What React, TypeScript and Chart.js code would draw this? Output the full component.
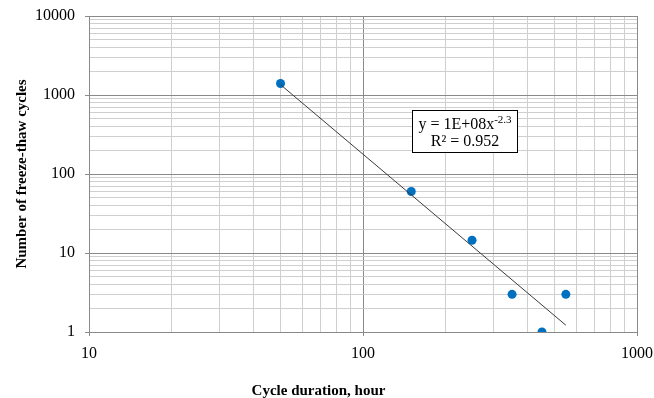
import React, { useEffect, useRef } from "react";
import { Chart, registerables } from "chart.js";

Chart.register(...registerables);

const durationHours = [50, 150, 250, 350, 450, 550];
const freezeThawCycles = [1400, 60, 14.5, 3, 1, 3];
const xMajorTicks = [10, 100, 1000];
const yMajorTicks = [1, 10, 100, 1000, 10000];
const minorSteps = [2, 3, 4, 5, 6, 7, 8, 9];
const equationText = "y = 1E+08x";
const equationExponent = "-2.3";
const rSquaredText = "R² = 0.952";
const xTitle = "Cycle duration, hour";
const yTitle = "Number of freeze-thaw cycles";

const FONT = "'Liberation Serif', 'Times New Roman', serif";
const MAJOR_GRID = "#8a8a8a";
const MINOR_GRID = "#cfcfcf";

function powerFit(xs: number[], ys: number[]) {
  const lx = xs.map((v) => Math.log10(v));
  const ly = ys.map((v) => Math.log10(v));
  const n = xs.length;
  const mx = lx.reduce((a, b) => a + b, 0) / n;
  const my = ly.reduce((a, b) => a + b, 0) / n;
  let sxy = 0;
  let sxx = 0;
  for (let i = 0; i < n; i++) {
    sxy += (lx[i] - mx) * (ly[i] - my);
    sxx += (lx[i] - mx) * (lx[i] - mx);
  }
  const b = sxy / sxx;
  const a = Math.pow(10, my - b * mx);
  return { a, b };
}

function buildLogTicks(majors: number[]) {
  const out: { value: number; major: boolean }[] = [];
  majors.forEach((m, i) => {
    out.push({ value: m, major: true });
    if (i < majors.length - 1) {
      minorSteps.forEach((s) => out.push({ value: m * s, major: false }));
    }
  });
  return out;
}

const annotationPlugin = {
  id: "trendLabel",
  afterDatasetsDraw(chart: any) {
    const { ctx, chartArea } = chart;
    const w = chartArea.right - chartArea.left;
    const h = chartArea.bottom - chartArea.top;
    const bx = Math.round(chartArea.left + 0.589 * w) + 0.5;
    const by = Math.round(chartArea.top + 0.297 * h) + 0.5;
    const bw = 105;
    const bh = 42;
    ctx.save();
    ctx.fillStyle = "#ffffff";
    ctx.fillRect(bx, by, bw, bh);
    ctx.strokeStyle = "#000000";
    ctx.lineWidth = 1;
    ctx.strokeRect(bx, by, bw, bh);
    ctx.fillStyle = "#000000";
    ctx.textBaseline = "alphabetic";
    ctx.textAlign = "left";
    ctx.font = `16px ${FONT}`;
    const mainW = ctx.measureText(equationText).width;
    ctx.font = `11px ${FONT}`;
    const supW = ctx.measureText(equationExponent).width;
    const total = mainW + supW;
    const x1 = bx + (bw - total) / 2;
    ctx.font = `16px ${FONT}`;
    ctx.fillText(equationText, x1, by + 18);
    ctx.font = `11px ${FONT}`;
    ctx.fillText(equationExponent, x1 + mainW, by + 12);
    ctx.font = `16px ${FONT}`;
    ctx.textAlign = "center";
    ctx.fillText(rSquaredText, bx + bw / 2, by + 35);
    ctx.restore();
  },
};

export default function App() {
  const canvasRef = useRef<HTMLCanvasElement | null>(null);

  useEffect(() => {
    document.body.style.margin = "0";
    const canvas = canvasRef.current;
    if (!canvas) return;
    const fit = powerFit(durationHours, freezeThawCycles);
    const xMin = Math.min(...durationHours);
    const xMax = Math.max(...durationHours);
    const trend = [
      { x: xMin, y: fit.a * Math.pow(xMin, fit.b) },
      { x: xMax, y: fit.a * Math.pow(xMax, fit.b) },
    ];
    const points = durationHours.map((x, i) => ({ x, y: freezeThawCycles[i] }));

    const gridColor = (majors: number[]) => (c: any) =>
      c.tick && majors.includes(c.tick.value) ? MAJOR_GRID : MINOR_GRID;
    const tickColor = (majors: number[]) => (c: any) =>
      c.tick && majors.includes(c.tick.value) ? MAJOR_GRID : "rgba(0,0,0,0)";

    const chart = new Chart(canvas, {
      type: "scatter",
      data: {
        datasets: [
          {
            label: "Power trend",
            data: trend,
            showLine: true,
            borderColor: "#3a3a3a",
            borderWidth: 1,
            pointRadius: 0,
            backgroundColor: "#3a3a3a",
          },
          {
            label: "Freeze-thaw cycles",
            data: points,
            backgroundColor: "#0070C0",
            borderColor: "#0070C0",
            borderWidth: 0,
            pointRadius: 4.5,
          },
        ],
      },
      options: {
        responsive: false,
        animation: false,
        layout: { padding: { top: 16, right: 17, left: 0, bottom: 0 } },
        plugins: {
          legend: { display: false },
          tooltip: { enabled: false },
          title: {
            display: true,
            position: "bottom",
            text: xTitle,
            color: "#000",
            font: { family: FONT, size: 15, weight: "bold" },
            padding: { top: 7, bottom: -2 },
          },
        },
        scales: {
          x: {
            type: "logarithmic",
            min: 10,
            max: 1000,
            afterBuildTicks: (s: any) => {
              s.ticks = buildLogTicks(xMajorTicks);
            },
            afterFit: (s: any) => {
              s.height = 43;
              s.paddingLeft = 0;
              s.paddingRight = 0;
            },
            ticks: {
              autoSkip: false,
              maxRotation: 0,
              color: "#000",
              padding: 8,
              font: { family: FONT, size: 16 },
              callback: (v: any) => (xMajorTicks.includes(Number(v)) ? String(v) : ""),
            },
            grid: {
              color: gridColor(xMajorTicks),
              tickColor: tickColor(xMajorTicks),
              tickLength: 4,
              lineWidth: 1,
            },
            border: { color: MAJOR_GRID },
          },
          y: {
            type: "logarithmic",
            min: 1,
            max: 10000,
            afterBuildTicks: (s: any) => {
              s.ticks = buildLogTicks(yMajorTicks);
            },
            afterFit: (s: any) => {
              s.width = 89;
              s.paddingTop = 0;
              s.paddingBottom = 0;
            },
            title: {
              display: true,
              text: yTitle,
              color: "#000",
              font: { family: FONT, size: 15, weight: "bold" },
              padding: { top: 13, bottom: 0 },
            },
            ticks: {
              autoSkip: false,
              color: "#000",
              padding: 10,
              font: { family: FONT, size: 16 },
              callback: (v: any) => (yMajorTicks.includes(Number(v)) ? String(v) : ""),
            },
            grid: {
              color: gridColor(yMajorTicks),
              tickColor: tickColor(yMajorTicks),
              tickLength: 4,
              lineWidth: 1,
            },
            border: { color: MAJOR_GRID },
          },
        },
      },
      plugins: [annotationPlugin],
    } as any);
    return () => chart.destroy();
  }, []);

  return (
    <div style={{ width: 654, height: 398, background: "#fff" }}>
      <canvas ref={canvasRef} width={654} height={398} style={{ display: "block" }} />
    </div>
  );
}
